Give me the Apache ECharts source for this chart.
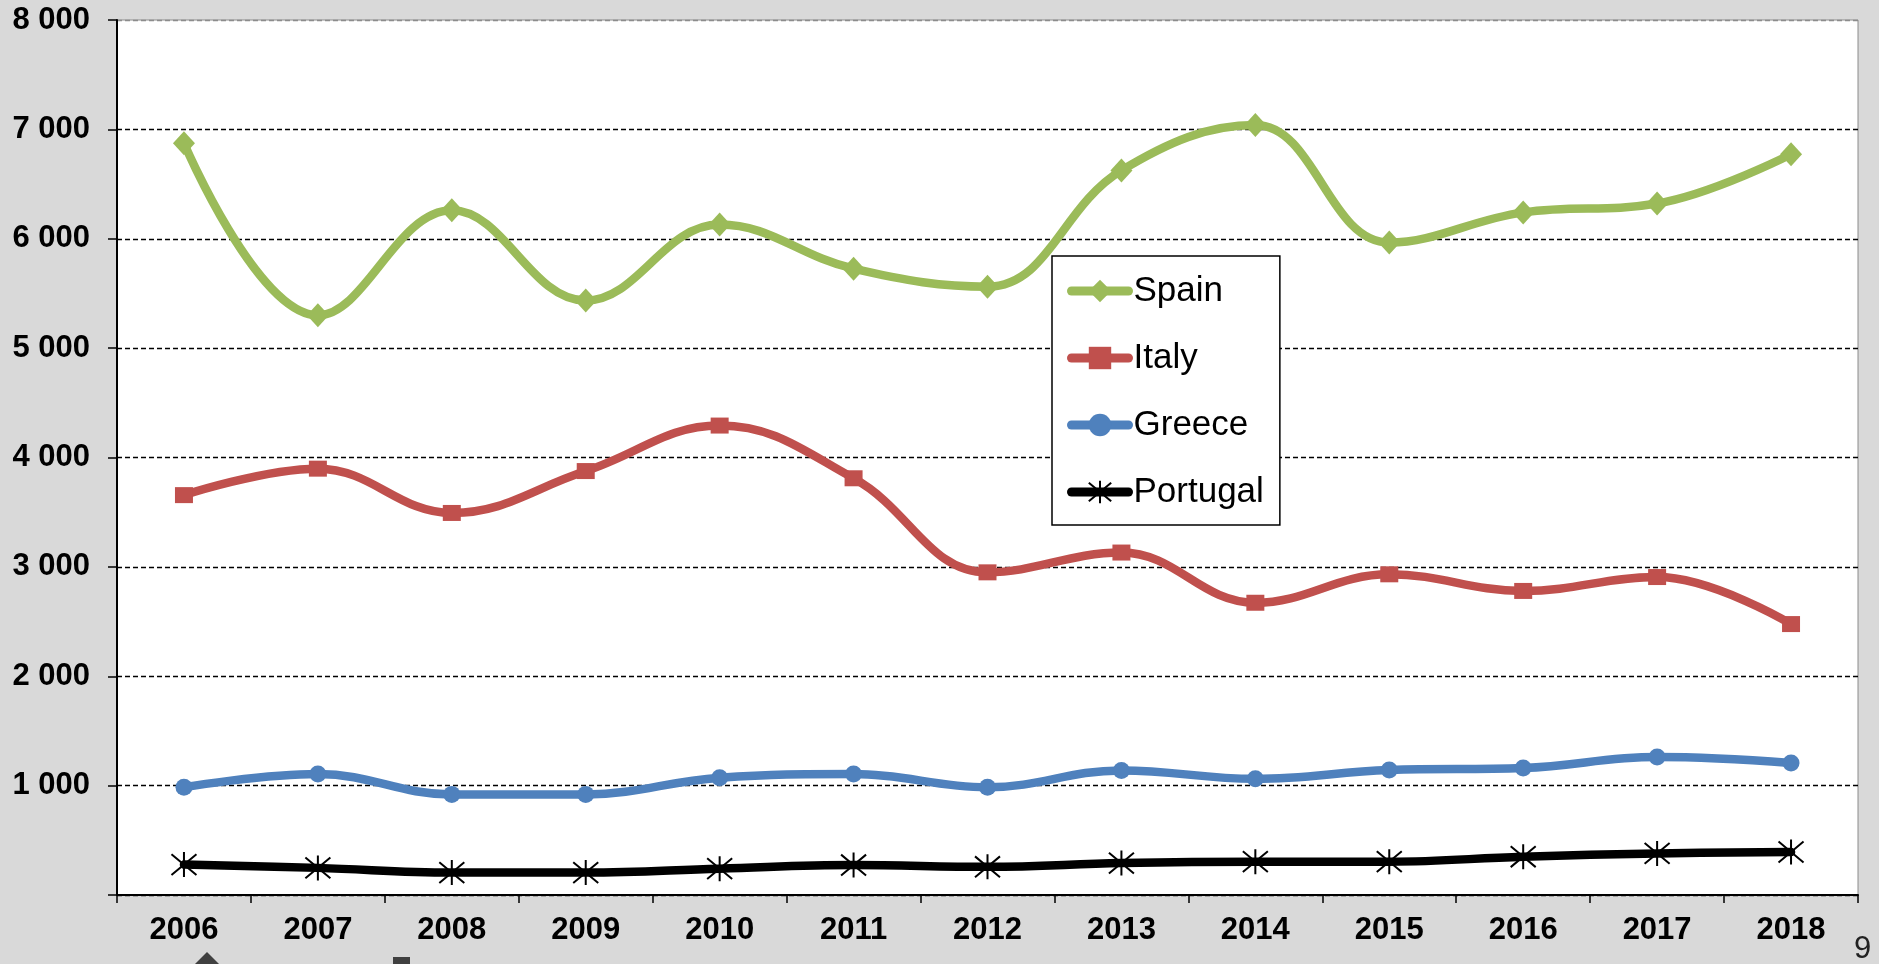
<!DOCTYPE html>
<html>
<head>
<meta charset="utf-8">
<script src="https://cdn.jsdelivr.net/npm/echarts@6/dist/echarts.min.js"></script>
<style>
  html, body { margin: 0; padding: 0; background: #d9d9d9; }
  #chart { width: 1879px; height: 964px; }
</style>
</head>
<body>
<div id="chart"></div>
<script>
// ---- data ----
const years = ['2006','2007','2008','2009','2010','2011','2012','2013','2014','2015','2016','2017','2018'];
const spain    = [6874, 5300, 6260, 5435, 6130, 5726, 5562, 6625, 7040, 5965, 6241, 6322, 6772];
const italy    = [3656, 3898, 3493, 3876, 4292, 3810, 2950, 3131, 2672, 2932, 2780, 2907, 2477];
const greece   = [985, 1106, 920, 920, 1073, 1106, 985, 1139, 1062, 1143, 1161, 1261, 1207];
const portugal = [278, 248, 205, 205, 241, 274, 258, 292, 305, 305, 350, 380, 393];
const yTicks = { min: 0, max: 8000, step: 1000 };
const pageNumber = '9';

function fmt(v) {
  if (v === 0) return '';
  return String(v).replace(/\B(?=(\d{3})+(?!\d))/g, ' ');
}

const asterisk = 'path://M12,0 L12,24 M0,2 L24,22 M0,22 L24,2';

const chart = echarts.init(document.getElementById('chart'));
const splitColors = [];
for (let v = yTicks.min; v <= yTicks.max; v += yTicks.step) {
  splitColors.push(v === yTicks.max ? '#8c8c8c' : '#000');
}

function lineSeries(name, data, color, symbol, symbolSize, extraItem) {
  return {
    name: name,
    type: 'line',
    data: data,
    smooth: 0.4,
    symbol: symbol,
    symbolSize: symbolSize,
    showSymbol: true,
    lineStyle: { color: color, width: 8.5, cap: 'round', join: 'round' },
    itemStyle: Object.assign({ color: color }, extraItem || {}),
    emphasis: { disabled: true },
    z: 3
  };
}

const legendFont = 'Liberation Sans, Arial, sans-serif';

chart.setOption({
  animation: false,
  backgroundColor: '#d9d9d9',
  textStyle: { fontFamily: 'Liberation Sans, Arial, sans-serif' },
  grid: {
    left: 117, right: 21, top: 20, bottom: 69,
    show: true, backgroundColor: '#ffffff',
    borderColor: '#8c8c8c', borderWidth: 1
  },
  legend: {
    orient: 'vertical',
    left: 1052, top: 256,
    backgroundColor: '#ffffff',
    borderColor: '#000', borderWidth: 1.5, borderRadius: 0,
    padding: [14, 16, 12, 15],
    itemWidth: 57, itemHeight: 28, itemGap: 25,
    lineStyle: { width: 9, cap: 'round' },
    textStyle: { fontSize: 35, color: '#000', fontFamily: legendFont, lineHeight: 42 },
    data: ['Spain', 'Italy', 'Greece', 'Portugal']
  },
  xAxis: {
    type: 'category',
    data: years,
    boundaryGap: true,
    axisLine: { show: true, lineStyle: { color: '#000', width: 2 } },
    axisTick: { show: true, length: 8, interval: 0, lineStyle: { color: '#000', width: 1.5 } },
    axisLabel: { interval: 0, margin: 20, fontSize: 31, fontWeight: 'bold', color: '#000' },
    splitLine: { show: false }
  },
  yAxis: {
    type: 'value',
    min: yTicks.min, max: yTicks.max, interval: yTicks.step,
    axisLine: { show: true, lineStyle: { color: '#000', width: 2 } },
    axisTick: { show: true, length: 9, lineStyle: { color: '#000', width: 1.5 } },
    axisLabel: { margin: 27, fontSize: 31, fontWeight: 'bold', color: '#000', formatter: fmt },
    splitLine: { show: true, lineStyle: { color: splitColors, type: [5, 3], width: 1.3 } }
  },
  series: [
    lineSeries('Spain', spain, '#9BBB59', 'diamond', [22, 24]),
    lineSeries('Italy', italy, '#C0504D', 'rect', [18, 16]),
    lineSeries('Greece', greece, '#4F81BD', 'circle', 17),
    lineSeries('Portugal', portugal, '#000000', asterisk, 25, { borderColor: '#000', borderWidth: 2 })
  ],
  graphic: [
    { type: 'text', left: 1854, top: 934, style: { text: pageNumber, fontSize: 31, fill: '#222', fontFamily: 'Liberation Sans, Arial, sans-serif' }, silent: true },
    { type: 'polygon', shape: { points: [[207, 952], [219, 964], [195, 964]] }, style: { fill: '#404040' }, silent: true },
    { type: 'rect', shape: { x: 393, y: 957, width: 17, height: 7 }, style: { fill: '#404040' }, silent: true }
  ]
});
</script>
</body>
</html>
